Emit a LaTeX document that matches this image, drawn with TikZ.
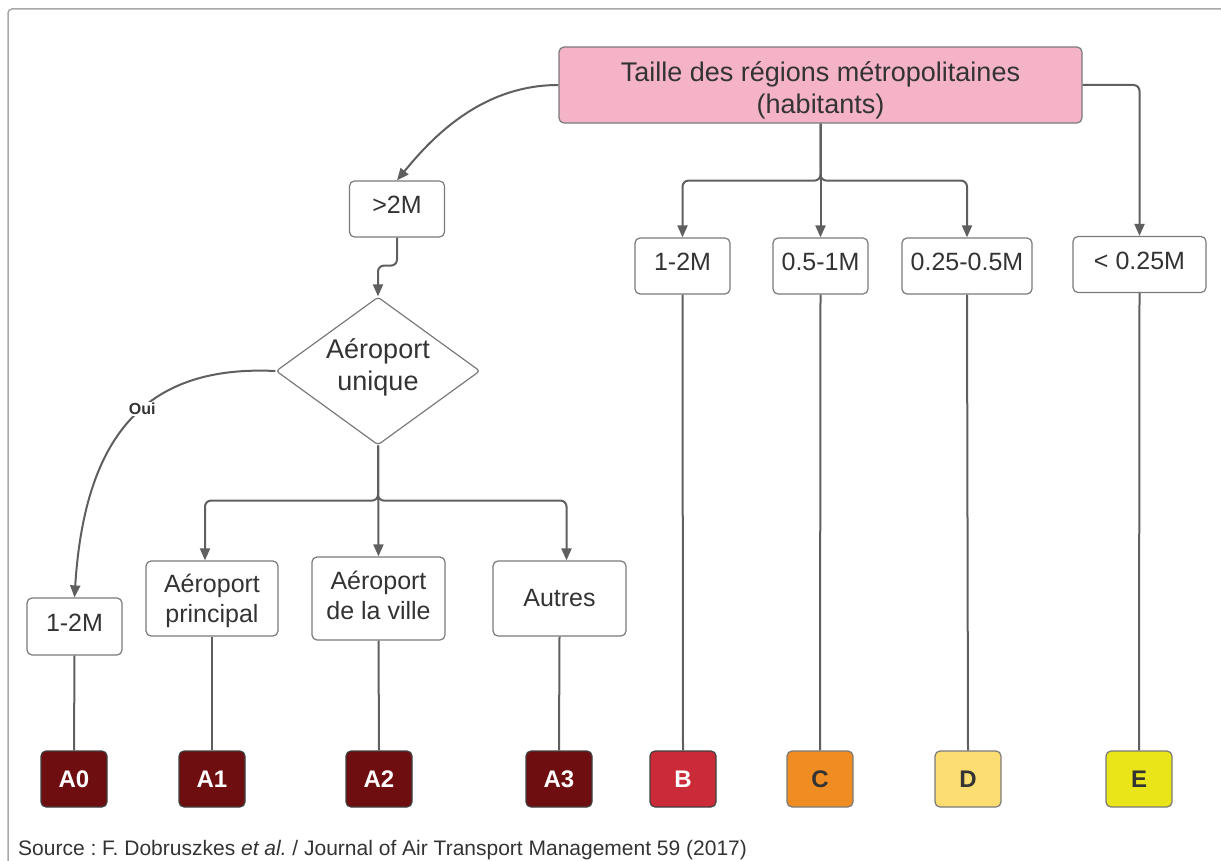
\documentclass[tikz,border=0pt]{standalone}
\usepackage{fontspec}
\setmainfont{Liberation Sans}
\usetikzlibrary{shapes.geometric,arrows.meta,calc}
\definecolor{lineg}{HTML}{5F5F5F}
\definecolor{bordg}{HTML}{7A7A7A}
\definecolor{txt}{HTML}{333333}
\definecolor{pinkf}{HTML}{F5B3C8}
\definecolor{cA}{HTML}{6E0E10}
\definecolor{cB}{HTML}{CB2B38}
\definecolor{cC}{HTML}{EF8C22}
\definecolor{cD}{HTML}{FCDD71}
\definecolor{cE}{HTML}{E9E519}
\definecolor{frameg}{HTML}{A8A8A8}
\newcommand{\liftone}[2]{\raisebox{#1}[\height][\depth]{#2}}
\newcommand{\lifttwo}[3]{\raisebox{#1}[\height][\depth]{\begin{tabular}{@{}c@{}}#2\\#3\end{tabular}}}
\begin{document}
\frenchspacing
\begin{tikzpicture}[x=1pt,y=-1pt,
  box/.style={draw=bordg,line width=1.2pt,rounded corners=5pt,fill=white,text=txt,
    align=center,inner sep=0pt,font=\fontsize{25}{30}\selectfont},
  letter/.style={rounded corners=5pt,line width=1.2pt,minimum width=66pt,minimum height=56pt,
    inner sep=0pt,font=\bfseries\fontsize{24}{28}\selectfont},
  wire/.style={draw=lineg,line width=2pt},
  arr/.style={wire,-{Triangle[length=12pt,width=10pt]}}]
\useasboundingbox (0,0) rectangle (1221,861);
% frame
\draw[frameg,line width=1.5pt,rounded corners=4pt] (8,861) -- (8,9) -- (1221,9);
% nodes
\node[box,fill=pinkf,minimum width=523pt,minimum height=76pt,font=\fontsize{27}{32}\selectfont] (title) at (820.5,85) {\lifttwo{-6.6pt}{Taille des régions métropolitaines}{(habitants)}};
\node[box,minimum width=95pt,minimum height=56pt] (gt2) at (397,209) {\liftone{4pt}{>2M}};
\node[draw=bordg,line width=1.2pt,diamond,aspect=1.38,minimum width=204pt,minimum height=148pt,inner sep=0pt,rounded corners=3pt,align=center,text=txt,font=\fontsize{27}{32}\selectfont] (dia) at (378,371) {\lifttwo{3.4pt}{Aéroport}{unique}};
\node[box,minimum width=95pt,minimum height=57pt] (l12) at (74.5,626.5) {\liftone{4pt}{1-2M}};
\node[box,minimum width=132pt,minimum height=75pt] (ap) at (212,598.5) {\lifttwo{-3pt}{Aéroport}{principal}};
\node[box,minimum width=133pt,minimum height=83pt] (av) at (378.5,598.5) {\lifttwo{0pt}{Aéroport}{de la ville}};
\node[box,minimum width=133pt,minimum height=75pt] (au) at (559.5,598.5) {Autres};
\node[box,minimum width=95pt,minimum height=56pt] (m12) at (682.5,266) {\liftone{4pt}{1-2M}};
\node[box,minimum width=95pt,minimum height=56pt] (m051) at (820.5,266) {\liftone{4pt}{0.5-1M}};
\node[box,minimum width=130pt,minimum height=56pt] (m025) at (967,266) {\liftone{4pt}{0.25-0.5M}};
\node[box,minimum width=133pt,minimum height=56pt] (lt) at (1139.5,264.5) {\liftone{4pt}{< 0.25M}};
% letter boxes
\node[letter,fill=cA,draw=black!75,text=white] (A0) at (74,779) {A0};
\node[letter,fill=cA,draw=black!75,text=white] (A1) at (212,779) {A1};
\node[letter,fill=cA,draw=black!75,text=white] (A2) at (379,779) {A2};
\node[letter,fill=cA,draw=black!75,text=white] (A3) at (559,779) {A3};
\node[letter,fill=cB,draw=black!75,text=white] (B) at (683,779) {B};
\node[letter,fill=cC,draw=bordg,text=txt] (C) at (820,779) {C};
\node[letter,fill=cD,draw=bordg,text=txt] (D) at (968,779) {D};
\node[letter,fill=cE,draw=bordg,text=txt] (E) at (1139,779) {E};
% connectors
\draw[arr] (title.west) .. controls (480,85) and (430,140) .. (gt2.north);
\draw[arr,rounded corners=6pt] (gt2.south) -- ++(0,28) -| (dia.north);
\draw[arr] (dia.west) .. controls (150,365) and (85,430) .. (l12.north)
  node[pos=0.45,fill=white,inner sep=1pt,text=txt,font=\bfseries\fontsize{16}{19}\selectfont] (oui) {Oui};
\draw[arr,rounded corners=6pt] (dia.south) -- ++(0,55) -| ([xshift=-7pt]ap.north);
\draw[arr] (dia.south) -- (av.north);
\draw[arr,rounded corners=6pt] (dia.south) -- ++(0,55) -| ([xshift=7pt]au.north);
\draw[arr,rounded corners=6pt] (title.south) -- ++(0,57) -| (m12.north);
\draw[arr] (title.south) -- (m051.north);
\draw[arr,rounded corners=6pt] (title.south) -- ++(0,57) -| (m025.north);
\draw[arr,rounded corners=6pt] (title.east) -| (lt.north);
\draw[wire] (l12.south) -- (A0.north);
\draw[wire] (ap.south) -- (A1.north);
\draw[wire] (av.south) -- (A2.north);
\draw[wire] (au.south) -- (A3.north);
\draw[wire] (m12.south) -- (B.north);
\draw[wire] (m051.south) -- (C.north);
\draw[wire] (m025.south) -- (D.north);
\draw[wire] (lt.south) -- (E.north);
% source
\node[anchor=base west,text=txt,inner sep=0pt,font=\fontsize{21}{24}\selectfont] (src) at (18,855) {Source : F. Dobruszkes \textit{et al.} / Journal of Air Transport Management 59 (2017)};
\end{tikzpicture}
\end{document}
